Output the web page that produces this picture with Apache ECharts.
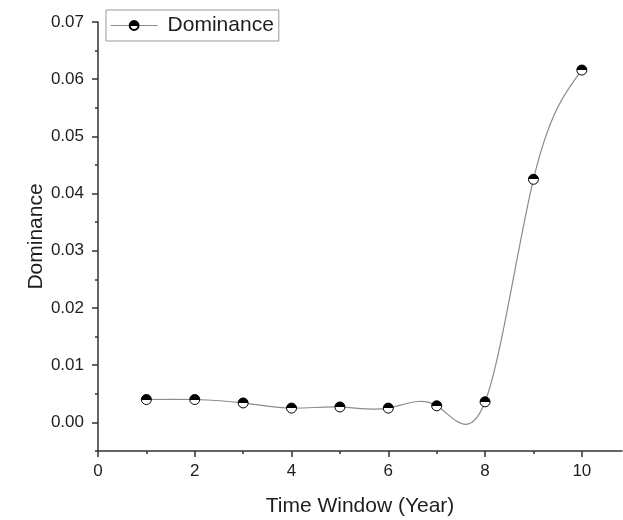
<!DOCTYPE html>
<html>
<head>
<meta charset="utf-8">
<script src="https://cdn.jsdelivr.net/npm/echarts@6/dist/echarts.min.js"></script>
<style>html,body{margin:0;padding:0;background:#fff;}#c{width:623px;height:520px;}</style>
</head>
<body>
<div id="c"></div>
<script>
var timeWindow = [1, 2, 3, 4, 5, 6, 7, 8, 9, 10];
var dominance = [0.0040, 0.0040, 0.0034, 0.0025, 0.0027, 0.0025, 0.0029, 0.0036, 0.0425, 0.0616];
var xMajorTicks = [0, 2, 4, 6, 8, 10];
var xMinorTicks = [1, 3, 5, 7, 9];
var yMajorTicks = [0, 0.01, 0.02, 0.03, 0.04, 0.05, 0.06, 0.07];
var yMinorTicks = [-0.005, 0.005, 0.015, 0.025, 0.035, 0.045, 0.055, 0.065];

var FONT = '"Liberation Sans", Arial, sans-serif';
var AX = '#333';
var TXT = '#1e1e1e';
var LINE = '#8c8c8c';
var X_MIN = 0, X_MAX = 10.83, Y_MIN = -0.005, Y_MAX = 0.07;

// Natural cubic spline (Origin-style "Spline" connection) through the data points:
// second derivatives M, then per-segment Bezier control points in data space.
function splineSlopes(xs, ys) {
  var n = xs.length, h = [], i;
  for (i = 0; i < n - 1; i++) h.push(xs[i + 1] - xs[i]);
  var M = new Array(n).fill(0);
  if (n > 2) {
    var a = [], b = [], c = [], d = [];
    for (i = 1; i < n - 1; i++) {
      a.push(h[i - 1]); b.push(2 * (h[i - 1] + h[i])); c.push(h[i]);
      d.push(6 * ((ys[i + 1] - ys[i]) / h[i] - (ys[i] - ys[i - 1]) / h[i - 1]));
    }
    var m = b.length, cp = [], dp = [];
    cp[0] = c[0] / b[0]; dp[0] = d[0] / b[0];
    for (i = 1; i < m; i++) {
      var den = b[i] - a[i] * cp[i - 1];
      cp[i] = c[i] / den; dp[i] = (d[i] - a[i] * dp[i - 1]) / den;
    }
    var sol = []; sol[m - 1] = dp[m - 1];
    for (i = m - 2; i >= 0; i--) sol[i] = dp[i] - cp[i] * sol[i + 1];
    for (i = 0; i < m; i++) M[i + 1] = sol[i];
  }
  var s = [];
  for (i = 0; i < n - 1; i++) s.push((ys[i + 1] - ys[i]) / h[i] - h[i] * (2 * M[i] + M[i + 1]) / 6);
  s.push((ys[n - 1] - ys[n - 2]) / h[n - 2] + h[n - 2] * (M[n - 2] + 2 * M[n - 1]) / 6);
  return s;
}
var slopes = splineSlopes(timeWindow, dominance);

var chart = echarts.init(document.getElementById('c'), null, {renderer: 'canvas'});
var halfFill = {
  type: 'linear', x: 0, y: 0, x2: 0, y2: 1,
  colorStops: [
    {offset: 0, color: '#000'}, {offset: 0.5, color: '#000'},
    {offset: 0.5, color: '#fff'}, {offset: 1, color: '#fff'}
  ]
};
chart.setOption({
  animation: false,
  backgroundColor: '#fff',
  grid: {left: 98, right: 1, top: 22, bottom: 69, containLabel: false, outerBoundsMode: 'none'},
  legend: {
    left: 106, top: 10,
    orient: 'horizontal',
    borderColor: '#999', borderWidth: 1,
    padding: [5, 5, 5, 4],
    itemWidth: 47, itemHeight: 11,
    lineStyle: {color: LINE, width: 1.2, opacity: 1},
    textStyle: {fontFamily: FONT, fontSize: 21, color: TXT, padding: [0, 0, 0, 5]},
    data: [{name: 'Dominance', lineStyle: {color: LINE, width: 1.2, opacity: 1}}]
  },
  xAxis: [{
    type: 'value', min: X_MIN, max: X_MAX,
    name: 'Time Window (Year)', nameLocation: 'middle', nameGap: 45, nameMoveOverlap: false,
    nameTextStyle: {fontFamily: FONT, fontSize: 21, color: TXT},
    axisLine: {show: true, onZero: false, lineStyle: {color: AX, width: 1.5}},
    axisTick: {show: true, inside: false, length: 6, lineStyle: {color: AX, width: 1.5}, customValues: xMajorTicks},
    axisLabel: {fontFamily: FONT, fontSize: 17, color: TXT, margin: 12, customValues: xMajorTicks,
      formatter: function (v) { return String(Math.round(v)); }},
    splitLine: {show: false}
  }, {
    type: 'value', min: X_MIN, max: X_MAX, position: 'bottom',
    axisLine: {show: false, onZero: false},
    axisTick: {show: true, length: 3, lineStyle: {color: AX, width: 1.5}, customValues: xMinorTicks},
    axisLabel: {show: false},
    splitLine: {show: false}
  }],
  yAxis: [{
    type: 'value', min: Y_MIN, max: Y_MAX,
    name: 'Dominance', nameLocation: 'middle', nameGap: 51, nameMoveOverlap: false,
    nameTextStyle: {fontFamily: FONT, fontSize: 21, color: TXT},
    axisLine: {show: true, onZero: false, lineStyle: {color: AX, width: 1.5}},
    axisTick: {show: true, inside: false, length: 6, lineStyle: {color: AX, width: 1.5}, customValues: yMajorTicks},
    axisLabel: {fontFamily: FONT, fontSize: 17, color: TXT, margin: 14, customValues: yMajorTicks,
      formatter: function (v) { return v.toFixed(2); }},
    splitLine: {show: false}
  }, {
    type: 'value', min: Y_MIN, max: Y_MAX, position: 'left',
    axisLine: {show: false, onZero: false},
    axisTick: {show: true, length: 3, lineStyle: {color: AX, width: 1.5}, customValues: yMinorTicks},
    axisLabel: {show: false},
    splitLine: {show: false}
  }],
  series: [{
    name: 'DominanceCurve',
    type: 'custom',
    xAxisIndex: 0, yAxisIndex: 0,
    z: 1,
    silent: true,
    data: timeWindow.map(function (x, i) { return [x, dominance[i]]; }),
    renderItem: function (params, api) {
      var i = params.dataIndex;
      if (i >= timeWindow.length - 1) return null;
      var x0 = timeWindow[i], x1 = timeWindow[i + 1];
      var y0 = dominance[i], y1 = dominance[i + 1];
      var h = x1 - x0;
      var p0 = api.coord([x0, y0]);
      var p1 = api.coord([x1, y1]);
      var c0 = api.coord([x0 + h / 3, y0 + slopes[i] * h / 3]);
      var c1 = api.coord([x1 - h / 3, y1 - slopes[i + 1] * h / 3]);
      return {
        type: 'bezierCurve',
        shape: {x1: p0[0], y1: p0[1], x2: p1[0], y2: p1[1], cpx1: c0[0], cpy1: c0[1], cpx2: c1[0], cpy2: c1[1]},
        style: {stroke: LINE, lineWidth: 1.2, fill: null}
      };
    }
  }, {
    name: 'Dominance',
    type: 'line',
    xAxisIndex: 0, yAxisIndex: 0,
    z: 3,
    data: timeWindow.map(function (x, i) { return [x, dominance[i]]; }),
    lineStyle: {color: LINE, width: 1.2, opacity: 0},
    symbol: 'circle', symbolSize: 10,
    itemStyle: {color: halfFill, borderColor: '#000', borderWidth: 1},
    emphasis: {disabled: true}
  }]
});
</script>
</body>
</html>
